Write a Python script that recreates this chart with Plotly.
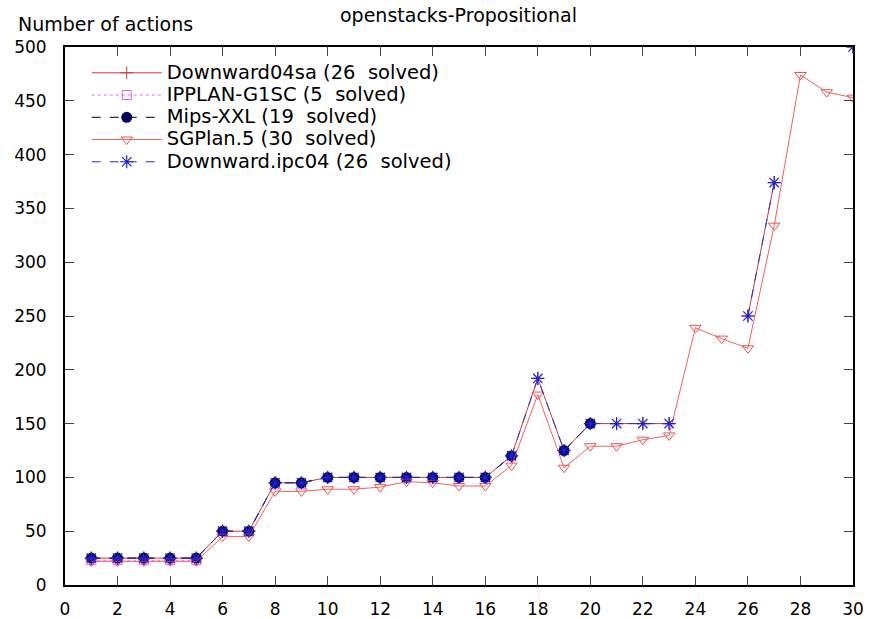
import plotly.graph_objects as go

# Data (None marks an unsolved problem, which breaks the line)
dw04sa_x = [1,2,3,4,5,6,7,8,9,10,11,12,13,14,15,16,17,18,19,20,21,22,23,24,26,27,28,30]
dw04sa_y = [25,25,25,25,25,50,50,95,95,100,100,100,100,100,100,100,120,192,125,150,150,150,150,None,250,374,None,500]

ipplan_x = [1,2,3,4,5]
ipplan_y = [23,23,23,23,23]

mips_x = [1,2,3,4,5,6,7,8,9,10,11,12,13,14,15,16,17,18,19,20]
mips_y = [25,25,25,25,25,50,50,95,95,100,100,100,100,100,100,100,120,None,125,150]

sgplan_x = list(range(1, 31))
sgplan_y = [22,22,22,22,22,45,45,87,87,89,89,91,96,95,92,92,111,177,109,129,129,135,139,239,229,220,334,474,458,453]

dwipc_x = [1,2,3,4,5,6,7,8,9,10,11,12,13,14,15,16,17,18,19,20,21,22,23,24,26,27,28,30]
dwipc_y = [25,25,25,25,25,50,50,95,95,100,100,100,100,100,100,100,120,192,125,150,150,150,150,None,250,374,None,500]

series_names = [
    "Downward04sa (26\u00a0 solved)",
    "IPPLAN-G1SC (5\u00a0 solved)",
    "Mips-XXL (19\u00a0 solved)",
    "SGPlan.5 (30\u00a0 solved)",
    "Downward.ipc04 (26\u00a0 solved)",
]

x_ticks = list(range(0, 31, 2))
y_ticks = list(range(0, 501, 50))

FONT = "DejaVu Sans, Verdana, sans-serif"

def lg(name):
    return '<span style="font-size:19.5px">' + name + '</span>'

fig = go.Figure()
fig.add_trace(go.Scatter(x=dw04sa_x, y=dw04sa_y, mode="lines+markers", connectgaps=False,
    name=lg(series_names[0]),
    line=dict(color="#c83c3c", width=1),
    marker=dict(symbol="cross-thin", size=9, line=dict(color="#c83c3c", width=1))))
fig.add_trace(go.Scatter(x=ipplan_x, y=ipplan_y, mode="lines+markers",
    name=lg(series_names[1]),
    line=dict(color="#e070e0", width=1, dash="dot"),
    marker=dict(symbol="square-open", size=9, color="#e060e0", line=dict(width=1))))
fig.add_trace(go.Scatter(x=mips_x, y=mips_y, mode="lines+markers", connectgaps=False,
    name=lg(series_names[2]),
    line=dict(color="#000000", width=1, dash="dash"),
    marker=dict(symbol="circle", size=11, color="#00005a")))
fig.add_trace(go.Scatter(x=sgplan_x, y=sgplan_y, mode="lines+markers",
    name=lg(series_names[3]),
    line=dict(color="#f06060", width=1),
    marker=dict(symbol="triangle-down-open", size=10, color="#f05050", line=dict(width=1))))
fig.add_trace(go.Scatter(x=dwipc_x, y=dwipc_y, mode="lines+markers", connectgaps=False,
    name=lg(series_names[4]),
    line=dict(color="#3030c0", width=1, dash="dash"),
    marker=dict(symbol="asterisk-open", size=11, color="#2020d0", line=dict(width=1.2, color="#2020d0"))))

fig.update_layout(
    width=870, height=619,
    margin=dict(l=65, r=17, t=47, b=34),
    paper_bgcolor="white", plot_bgcolor="white",
    font=dict(family=FONT, size=17, color="black"),
    showlegend=True,
    legend=dict(x=0.0276, y=0.982, xanchor="left", yanchor="top",
                bgcolor="rgba(0,0,0,0)", font=dict(size=14.8, family=FONT),
                itemwidth=70, tracegroupgap=0),
    annotations=[
        dict(text="openstacks-Propositional", xref="paper", yref="paper", showarrow=False,
             x=(458-65)/788, y=1+(47-15)/538, xanchor="center", yanchor="middle",
             font=dict(size=19, family=FONT)),
        dict(text="Number of actions", xref="paper", yref="paper", showarrow=False,
             x=(16-65)/788, y=1+(47-24)/538, xanchor="left", yanchor="middle",
             font=dict(size=19, family=FONT)),
    ],
)

fig.update_xaxes(range=[0, 30], tickvals=x_ticks, ticks="inside", ticklen=9,
                 showline=True, linecolor="black", linewidth=2, mirror="ticks",
                 ticklabelstandoff=8, automargin=False,
                 showgrid=False, zeroline=False, tickfont=dict(size=17, family=FONT))
fig.update_yaxes(range=[0, 500], tickvals=y_ticks, ticks="inside", ticklen=9,
                 showline=True, linecolor="black", linewidth=2, mirror="ticks",
                 ticklabelstandoff=13, automargin=False,
                 showgrid=False, zeroline=False, tickfont=dict(size=17, family=FONT))

fig.write_html("out.html")
